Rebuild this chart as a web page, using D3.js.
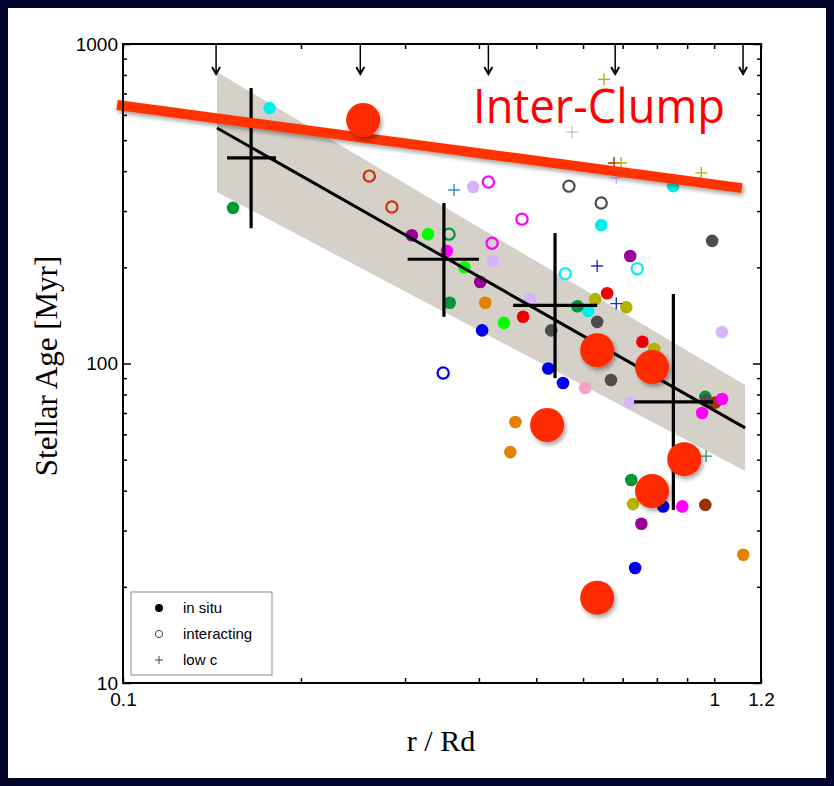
<!DOCTYPE html>
<html><head><meta charset="utf-8">
<script src="https://cdn.jsdelivr.net/npm/d3@7"></script>
<style>
  body { margin: 0; background: #00032a; }
  svg { display: block; }
</style>
</head><body>
<svg id="chart" width="834" height="786"></svg>
<script>
// ---- data -------------------------------------------------------------
const xDomain = [0.1, 1.2];
const yDomain = [10, 1000];
const xTickLabels = [0.1, 1, 1.2];
const yTickLabels = [10, 100, 1000];

// [r/Rd, age (Myr), galaxy id]
const inSitu = [
  [0.177, 630, 'A'], [0.612, 146, 'A'], [0.644, 271, 'A'], [0.852, 359, 'A'],
  [0.1535, 307, 'B'], [0.357, 155, 'B'], [0.587, 151, 'B'], [0.724, 43.2, 'B'], [0.966, 78.6, 'B'],
  [0.308, 252, 'C'], [0.402, 180, 'C'], [0.721, 217, 'C'], [0.753, 31.5, 'C'],
  [0.328, 254, 'D'], [0.378, 200, 'D'], [0.441, 134, 'D'],
  [0.530, 127, 'J'], [0.634, 135, 'J'], [0.992, 242, 'J'], [0.669, 88.8, 'J'], [0.969, 76.6, 'J'],
  [1.004, 75.5, 'M'], [0.966, 36.1, 'M'],
  [0.353, 225, 'E'], [1.031, 77.4, 'E'], [0.954, 70.0, 'E'], [0.883, 35.7, 'E'],
  [0.391, 357, 'F'], [0.423, 209, 'F'], [0.488, 159, 'F'], [1.031, 125.5, 'F'], [0.721, 75.5, 'F'],
  [0.410, 155, 'G'], [0.461, 65.6, 'G'], [0.452, 52.8, 'G'], [1.120, 25.2, 'G'],
  [0.475, 140, 'H'], [0.659, 166, 'H'], [0.756, 117, 'H'],
  [0.405, 127, 'I'], [0.524, 96.5, 'I'], [0.555, 86.9, 'I'], [0.820, 35.7, 'I'], [0.735, 22.9, 'I'],
  [0.629, 159, 'K'], [0.710, 150, 'K'], [0.792, 111, 'K'], [0.729, 36.3, 'K'],
  [0.605, 83.8, 'L']
];
const interacting = [
  [0.261, 386, 'N'], [0.285, 309, 'N'],
  [0.356, 254, 'B'],
  [0.415, 370, 'E'], [0.473, 283, 'E'], [0.421, 238, 'E'],
  [0.568, 359, 'J'], [0.644, 318, 'J'],
  [0.560, 191, 'A'], [0.741, 198, 'A'],
  [0.348, 93.4, 'I']
];
const lowC = [
  [0.363, 349, 'O'], [0.575, 530, 'P'], [0.677, 424, 'M'], [0.696, 424, 'K'],
  [0.951, 395, 'K'], [0.651, 775, 'K'], [0.683, 381, 'F'],
  [0.634, 202, 'Q'], [0.683, 154, 'Q'], [0.969, 51.3, 'R']
];

// inter-clump regions
const clumpR   = [0.2548, 0.5217, 0.634, 0.785, 0.890, 0.785, 0.634];
const clumpAge = [578, 64.2, 110, 97.5, 50.2, 39.9, 18.5];

// binned means with scatter
const binR     = [0.1647, 0.349, 0.538, 0.853];
const binAge   = [440, 212, 152, 75.8];
const binAgeHi = [728, 318, 256, 165];
const binAgeLo = [265, 140, 90, 34.8];
const binRLo   = [0.150, 0.303, 0.457, 0.732];
const binRHi   = [0.1815, 0.400, 0.634, 0.996];

// linear fit in log-log and its band
const fitR    = [0.1442, 1.128];
const fitAge  = [546, 62.9];
const bandHi  = [817, 85.7];
const bandLo  = [344, 46.1];

// inter-clump age trend
const icR   = [0.0977, 1.114];
const icAge = [644, 354];

// radial bin edges marked at the top
const arrowR = [0.1437, 0.252, 0.415, 0.680, 1.119];

const legendItems = ['in situ', 'interacting', 'low c'];

// ---- styles -----------------------------------------------------------
const palette = {
  A: '#00f0f0', B: '#009933', C: '#990099', D: '#00ff00', E: '#ff00ff',
  F: '#d7b4fa', G: '#e68000', H: '#ee0000', I: '#0000ee', J: '#4d4d4d',
  K: '#b3b300', L: '#f7a1c8', M: '#993300', N: '#cc3300', O: '#2f8fc4',
  P: '#c4c4c4', Q: '#2a2acc', R: '#22a050'
};

// ---- layout -----------------------------------------------------------
const svg = d3.select('#chart');
const plotL = 123, plotR = 761, plotT = 44, plotB = 683;
const x = d3.scaleLog().domain(xDomain).range([plotL, plotR]);
const y = d3.scaleLog().domain(yDomain).range([plotB, plotT]);

const defs = svg.append('defs');
const sh = defs.append('filter').attr('id', 'shadow')
  .attr('x', '-30%').attr('y', '-30%').attr('width', '170%').attr('height', '170%');
sh.append('feDropShadow').attr('dx', 2).attr('dy', 3).attr('stdDeviation', 2)
  .attr('flood-color', '#000').attr('flood-opacity', 0.35);

// white panel
svg.append('rect').attr('x', 8).attr('y', 8).attr('width', 818).attr('height', 770)
  .attr('fill', '#fff');

// scatter band
svg.append('path')
  .attr('d', d3.line()([
    [x(fitR[0]), y(bandHi[0])], [x(fitR[1]), y(bandHi[1])],
    [x(fitR[1]), y(bandLo[1])], [x(fitR[0]), y(bandLo[0])]
  ]) + 'Z')
  .attr('fill', '#d5d1c9');

// points
const pts = svg.append('g');
pts.selectAll('circle.insitu').data(inSitu).join('circle')
  .attr('class', 'insitu')
  .attr('cx', d => x(d[0])).attr('cy', d => y(d[1])).attr('r', 6.3)
  .attr('fill', d => palette[d[2]]);
pts.selectAll('circle.inter').data(interacting).join('circle')
  .attr('class', 'inter')
  .attr('cx', d => x(d[0])).attr('cy', d => y(d[1])).attr('r', 5.6)
  .attr('fill', 'none').attr('stroke', d => palette[d[2]]).attr('stroke-width', 2.2);
pts.selectAll('path.lowc').data(lowC).join('path')
  .attr('class', 'lowc')
  .attr('d', d => {
    const cx = x(d[0]), cy = y(d[1]), s = 6;
    return `M${cx - s},${cy}H${cx + s}M${cx},${cy - s}V${cy + s}`;
  })
  .attr('stroke', d => palette[d[2]]).attr('stroke-width', 1.4).attr('fill', 'none');

// fit line
svg.append('line')
  .attr('x1', x(fitR[0])).attr('y1', y(fitAge[0]))
  .attr('x2', x(fitR[1])).attr('y2', y(fitAge[1]))
  .attr('stroke', '#000').attr('stroke-width', 3);

// binned error crosses
const bars = svg.append('g').attr('stroke', '#000').attr('stroke-width', 3.2);
binR.forEach((r, i) => {
  bars.append('line').attr('x1', x(r)).attr('x2', x(r))
    .attr('y1', y(binAgeHi[i])).attr('y2', y(binAgeLo[i]));
  bars.append('line').attr('x1', x(binRLo[i])).attr('x2', x(binRHi[i]))
    .attr('y1', y(binAge[i])).attr('y2', y(binAge[i]));
});

// bin edge arrows
const arr = svg.append('g').attr('stroke', '#000').attr('stroke-width', 1.5).attr('fill', 'none');
arrowR.forEach(r => {
  const ax = x(r);
  arr.append('line').attr('x1', ax).attr('x2', ax).attr('y1', plotT).attr('y2', plotT + 30);
  arr.append('path').attr('d', `M${ax - 4},${plotT + 23}L${ax},${plotT + 30}L${ax + 4},${plotT + 23}`)
    .attr('stroke-width', 2);
});

// inter-clump trend
svg.append('line')
  .attr('x1', x(icR[0])).attr('y1', y(icAge[0]))
  .attr('x2', x(icR[1])).attr('y2', y(icAge[1]))
  .attr('stroke', '#ff3300').attr('stroke-width', 10)
  .attr('filter', 'url(#shadow)');

// inter-clump regions
svg.append('g').selectAll('circle').data(clumpR).join('circle')
  .attr('cx', d => x(d)).attr('cy', (d, i) => y(clumpAge[i])).attr('r', 17)
  .attr('fill', '#ff2a00').attr('filter', 'url(#shadow)');

svg.append('text').attr('x', 473).attr('y', 123)
  .attr('font-family', 'Open Sans, sans-serif').attr('font-size', 48)
  .attr('textLength', 252).attr('lengthAdjust', 'spacingAndGlyphs')
  .attr('fill', '#ff0000').text('Inter-Clump');

// ---- axes -------------------------------------------------------------
const xTicks = [0.1, 0.2, 0.3, 0.4, 0.5, 0.6, 0.7, 0.8, 0.9, 1, 1.2];
const yTicks = [];
[10, 100].forEach(b => { for (let k = 1; k < 10; k++) yTicks.push(b * k); });
yTicks.push(1000);
const isMajorY = v => yTickLabels.includes(v);
const fmtX = v => xTickLabels.includes(v) ? String(v) : '';
const fmtY = v => isMajorY(v) ? String(v) : '';

function styleAxis(g) {
  g.select('.domain').remove();
  g.selectAll('line').attr('stroke', '#000').attr('stroke-width', 1.5);
  g.selectAll('text').attr('font-family', 'Liberation Sans, Arial, sans-serif')
    .attr('font-size', 19).attr('fill', '#000');
}

svg.append('g').attr('transform', `translate(0,${plotB})`)
  .call(d3.axisBottom(x).tickValues(xTicks).tickFormat(fmtX).tickSize(-5).tickPadding(10))
  .call(styleAxis);
svg.append('g').attr('transform', `translate(0,${plotT})`)
  .call(d3.axisTop(x).tickValues(xTicks).tickFormat('').tickSize(-5))
  .call(styleAxis);
svg.append('g').attr('transform', `translate(${plotL},0)`)
  .call(d3.axisLeft(y).tickValues(yTicks).tickFormat(fmtY).tickSize(-4).tickPadding(5))
  .call(styleAxis)
  .call(g => g.selectAll('.tick line').attr('x2', d => isMajorY(d) ? 8 : 4));
svg.append('g').attr('transform', `translate(${plotR},0)`)
  .call(d3.axisRight(y).tickValues(yTicks).tickFormat('').tickSize(-4))
  .call(styleAxis)
  .call(g => g.selectAll('.tick line').attr('x2', d => isMajorY(d) ? -8 : -4));

svg.append('rect').attr('x', plotL).attr('y', plotT)
  .attr('width', plotR - plotL).attr('height', plotB - plotT)
  .attr('fill', 'none').attr('stroke', '#000').attr('stroke-width', 2);

// axis titles
svg.append('text').attr('x', 441).attr('y', 751).attr('text-anchor', 'middle')
  .attr('font-family', 'Liberation Serif, Times New Roman, serif').attr('font-size', 30)
  .attr('fill', '#000').text('r / Rd');
svg.append('text').attr('transform', 'translate(57,366) rotate(-90)').attr('text-anchor', 'middle')
  .attr('font-family', 'Liberation Serif, Times New Roman, serif').attr('font-size', 31)
  .attr('fill', '#000').text('Stellar Age [Myr]');

// ---- legend -----------------------------------------------------------
const lg = svg.append('g');
lg.append('rect').attr('x', 131).attr('y', 592).attr('width', 141).attr('height', 83)
  .attr('fill', '#fff').attr('stroke', '#8c8c8c').attr('stroke-width', 1);
legendItems.forEach((t, i) => {
  const cy = 608 + i * 26, cx = 159;
  if (i === 0) lg.append('circle').attr('cx', cx).attr('cy', cy).attr('r', 4).attr('fill', '#000');
  if (i === 1) lg.append('circle').attr('cx', cx).attr('cy', cy).attr('r', 3.6)
    .attr('fill', 'none').attr('stroke', '#444').attr('stroke-width', 1);
  if (i === 2) lg.append('path').attr('d', `M${cx - 4},${cy}H${cx + 4}M${cx},${cy - 4}V${cy + 4}`)
    .attr('stroke', '#444').attr('stroke-width', 1);
  lg.append('text').attr('x', 183).attr('y', cy + 5)
    .attr('font-family', 'Liberation Sans, Arial, sans-serif').attr('font-size', 15)
    .attr('fill', '#000').text(t);
});
</script>
</body></html>
